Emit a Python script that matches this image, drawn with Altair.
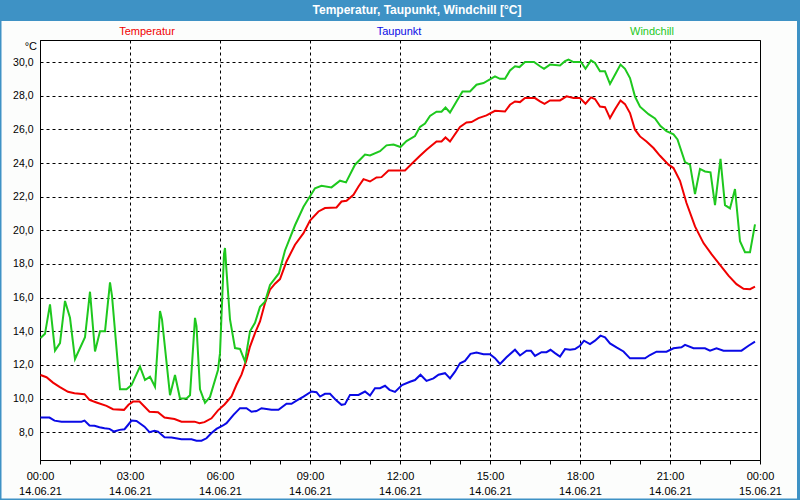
import altair as alt
import pandas as pd

# ---------------- data ----------------
temp_times = ["00:01","00:13","00:26","00:39","00:56","01:09","01:29","01:39","01:53","02:13",
              "02:26","02:48","02:57","03:06","03:19","03:39","03:56","04:09","04:29","04:43",
              "05:09","05:19","05:29","05:43","05:56","06:09","06:23","06:33","06:43","06:53",
              "07:00","07:10","07:20","07:30","07:40","07:50","08:00","08:13","08:30","08:47",
              "09:00","09:17","09:30","09:53","10:03","10:13","10:27","10:37","10:47","11:00",
              "11:13","11:23","11:37","12:10","12:23","12:40","12:53","13:13","13:23","13:31",
              "13:40","14:00","14:13","14:23","14:37","14:53","15:10","15:30","15:40","15:50",
              "16:00","16:10","16:30","16:40","16:49","17:00","17:20","17:33","17:47","18:00",
              "18:11","18:22","18:30","18:40","18:50","19:00","19:10","19:21","19:30","19:40",
              "19:50","20:00","20:13","20:27","20:40","20:57","21:07","21:20","21:33","21:50",
              "22:07","22:23","22:40","22:57","23:13","23:27","23:40","23:50"]
temp_vals = [11.4,11.27,10.95,10.7,10.4,10.32,10.26,9.92,9.77,9.57,
             9.37,9.33,9.63,9.82,9.82,9.22,9.19,8.87,8.79,8.63,
             8.63,8.54,8.6,8.83,9.3,9.65,10.13,10.82,11.42,12.3,
             13.09,13.89,14.58,15.68,16.47,16.83,17.1,18.15,19.14,19.83,
             20.58,21.12,21.32,21.36,21.71,21.75,22.11,22.6,23.04,22.9,
             23.14,23.16,23.56,23.56,23.94,24.43,24.79,25.28,25.28,25.52,
             25.28,26.14,26.41,26.43,26.67,26.83,27.1,27.06,27.46,27.66,
             27.62,27.86,27.86,27.66,27.52,27.72,27.72,27.96,27.86,27.86,
             27.52,27.9,27.8,27.36,27.32,26.67,27.2,27.72,27.5,26.97,
             25.98,25.58,25.28,24.89,24.43,23.9,23.7,22.94,21.62,20.23,
             19.24,18.58,17.95,17.31,16.8,16.52,16.5,16.66]

dew_times = ["00:01","00:19","00:29","00:43","01:23","01:29","01:39","01:49","01:59","02:09",
             "02:19","02:28","02:39","02:49","02:56","03:03","03:13","03:29","03:39","03:49",
             "03:56","04:09","04:23","04:43","05:03","05:13","05:23","05:33","05:43","05:53",
             "06:06","06:13","06:27","06:40","06:53","07:03","07:13","07:23","07:43","07:57",
             "08:13","08:23","08:33","08:47","09:03","09:13","09:20","09:30","09:40","09:53",
             "10:03","10:10","10:20","10:37","10:50","11:00","11:10","11:20","11:30","11:39",
             "11:50","12:04","12:20","12:30","12:41","12:53","13:07","13:17","13:30","13:40",
             "13:50","14:00","14:10","14:21","14:33","14:47","15:00","15:10","15:20","15:33",
             "15:50","16:00","16:13","16:22","16:30","16:43","16:53","17:01","17:10","17:20",
             "17:30","17:40","17:50","18:00","18:08","18:20","18:30","18:41","18:50","19:00",
             "19:13","19:27","19:40","20:10","20:20","20:33","20:53","21:07","21:23","21:30",
             "21:47","22:10","22:20","22:33","22:47","23:23","23:37","23:50"]
dew_vals = [8.87,8.87,8.69,8.63,8.63,8.69,8.4,8.38,8.3,8.24,
            8.2,8.04,8.14,8.18,8.43,8.69,8.67,8.33,8.0,8.08,
            8.04,7.7,7.68,7.58,7.58,7.5,7.5,7.64,7.95,8.2,
            8.4,8.54,9.03,9.43,9.43,9.22,9.26,9.43,9.33,9.33,
            9.69,9.69,9.88,10.12,10.42,10.38,10.12,10.28,10.28,9.88,
            9.63,9.67,10.22,10.22,10.42,10.18,10.62,10.62,10.76,10.52,
            10.4,10.8,11.0,11.1,11.42,11.05,11.2,11.42,11.51,11.2,
            11.6,12.1,12.24,12.66,12.74,12.64,12.64,12.4,12.06,12.46,
            12.9,12.56,12.84,12.84,12.54,12.76,12.76,12.9,12.7,12.5,
            12.94,12.9,12.94,13.14,13.44,13.24,13.44,13.74,13.64,13.28,
            13.04,12.8,12.39,12.39,12.59,12.79,12.79,12.99,13.05,13.19,
            12.99,12.99,12.85,12.99,12.85,12.85,13.14,13.38]

wind_times = ["00:01","00:10","00:20","00:30","00:40","00:50","01:00","01:10","01:30","01:40",
              "01:50","02:00","02:10","02:20","02:24","02:40","02:53","03:03","03:20","03:30",
              "03:40","03:50","04:00","04:04","04:20","04:30","04:40","04:53","05:00","05:10",
              "05:13","05:20","05:30","05:40","05:56","06:00","06:08","06:10","06:13","06:20",
              "06:30","06:40","06:50","07:00","07:10","07:20","07:30","07:40","07:58","08:10",
              "08:30","08:47","09:10","09:23","09:43","10:00","10:12","10:30","10:50","11:00",
              "11:20","11:33","11:47","12:01","12:13","12:30","12:40","12:50","13:00","13:13",
              "13:23","13:31","13:40","13:53","14:05","14:20","14:33","14:47","15:10","15:20",
              "15:30","15:40","15:50","15:59","16:10","16:28","16:40","16:48","17:00","17:20",
              "17:30","17:37","17:47","18:02","18:11","18:22","18:30","18:40","18:50","19:00",
              "19:10","19:21","19:30","19:40","19:50","20:00","20:17","20:30","20:41","20:53",
              "21:07","21:15","21:30","21:40","21:50","22:00","22:10","22:21","22:30","22:41",
              "22:50","23:00","23:10","23:20","23:30","23:40","23:50"]
wind_vals = [13.6,13.85,15.6,12.85,13.3,15.8,14.8,12.35,13.65,16.35,
             12.8,14.0,14.0,16.9,16.1,10.55,10.55,10.8,11.9,11.1,
             11.3,10.7,15.2,14.7,10.2,11.4,10.0,10.0,10.2,14.8,
             14.3,10.55,9.75,10.1,11.7,12.7,18.6,18.95,17.6,14.7,
             13.0,12.95,12.2,14.0,14.5,15.45,15.75,16.75,17.45,18.8,
             20.3,21.4,22.5,22.65,22.55,22.95,22.85,23.9,24.5,24.45,
             24.7,25.05,25.1,24.95,25.3,25.6,26.15,26.35,26.8,27.05,
             27.05,27.3,27.0,27.65,28.25,28.25,28.65,28.75,29.15,29.0,
             29.0,29.5,29.75,29.7,30.0,30.0,29.75,29.6,29.85,29.8,
             30.05,30.15,30.0,30.0,29.6,30.1,29.95,29.45,29.45,28.7,
             29.25,29.85,29.6,29.05,27.95,27.35,26.9,26.65,26.2,25.9,
             25.7,25.4,24.05,23.9,22.15,23.65,23.5,23.45,21.5,24.25,
             21.5,21.3,22.45,19.35,18.7,18.7,20.35]

series_names = ["Temperatur", "Taupunkt", "Windchill"]
series_colors = ["#f00000", "#0a0ae6", "#1ec81e"]
y_ticks = [8, 10, 12, 14, 16, 18, 20, 22, 24, 26, 28, 30]
hours = list(range(0, 25))

frames = []
for name, tt, vv in [("Temperatur", temp_times, temp_vals),
                     ("Taupunkt", dew_times, dew_vals),
                     ("Windchill", wind_times, wind_vals)]:
    frames.append(pd.DataFrame({"time": ["2021-06-14T" + t + ":00" for t in tt],
                                "value": vv, "series": name}))
df = pd.concat(frames, ignore_index=True)

FONT = "Liberation Sans"
BLUE_FRAME = "#3e92c5"

x_values = [alt.DateTime(year=2021, month=6, date=14 + h // 24, hours=h % 24) for h in hours]

x_axis = alt.Axis(
    values=x_values,
    title=None,
    labelExpr="hours(datum.value) % 3 == 0 ? [timeFormat(datum.value, '%H:%M'), timeFormat(datum.value, '%d.%m.%y')] : ''",
    labelOverlap=False,
    labelFlush=False,
    labelFont=FONT,
    labelFontSize=11,
    labelColor="#000000",
    labelPadding=6,
    labelLineHeight=15,
    tickSize=4,
    tickColor="#000000",
    domainColor="#000000",
    grid=True,
    gridColor="#000000",
    gridDash=[3, 3],
    gridOpacity={"condition": {"test": "hours(datum.value) % 3 == 0", "value": 1}, "value": 0},
)

y_axis = alt.Axis(
    values=y_ticks,
    title=None,
    labelExpr="replace(format(datum.value, '.1f'), '.', ',')",
    labelFont=FONT,
    labelFontSize=10.5,
    labelColor="#000000",
    labelPadding=7,
    ticks=False,
    domainColor="#000000",
    grid=True,
    gridColor="#000000",
    gridDash=[3, 3],
)

lines = alt.Chart(df).mark_line(strokeWidth=2, clip=True).encode(
    x=alt.X("time:T", axis=x_axis,
            scale=alt.Scale(domain=[alt.DateTime(year=2021, month=6, date=14, hours=0),
                                    alt.DateTime(year=2021, month=6, date=15, hours=0)])),
    y=alt.Y("value:Q", axis=y_axis, scale=alt.Scale(domain=[6.35, 31.31], nice=False, zero=False)),
    color=alt.Color("series:N", scale=alt.Scale(domain=series_names, range=series_colors), legend=None),
    detail="series:N",
)

one = pd.DataFrame({"a": [0]})

# decorative window frame (blue title bar and thin border)
title_bar = alt.Chart(one).mark_rect(color=BLUE_FRAME).encode(
    x=alt.value(-40), x2=alt.value(760), y=alt.value(-40), y2=alt.value(-19))
left_b = alt.Chart(one).mark_rect(color=BLUE_FRAME).encode(
    x=alt.value(-40), x2=alt.value(-38.5), y=alt.value(-40), y2=alt.value(460))
right_b = alt.Chart(one).mark_rect(color=BLUE_FRAME).encode(
    x=alt.value(757), x2=alt.value(760), y=alt.value(-40), y2=alt.value(460))
bottom_b = alt.Chart(one).mark_rect(color=BLUE_FRAME).encode(
    x=alt.value(-40), x2=alt.value(760), y=alt.value(458.5), y2=alt.value(460))

title_txt = alt.Chart(one).mark_text(
    text="Temperatur, Taupunkt, Windchill [°C]", font=FONT, fontSize=12, fontWeight="bold",
    color="white", align="center", baseline="middle").encode(
    x=alt.value(377), y=alt.value(-30))

legend_x = [107, 359, 612]
legend_layers = [
    alt.Chart(one).mark_text(text=n, font=FONT, fontSize=11, color=c,
                             align="center", baseline="middle").encode(
        x=alt.value(px), y=alt.value(-8.5))
    for n, c, px in zip(series_names, series_colors, legend_x)
]

unit_txt = alt.Chart(one).mark_text(text="°C", font=FONT, fontSize=11, color="#000000",
                                    align="right", baseline="middle").encode(
    x=alt.value(-3), y=alt.value(6.5))

chart = alt.layer(lines, title_bar, left_b, right_b, bottom_b, title_txt, unit_txt,
                  *legend_layers).properties(
    width=720, height=420,
    padding={"left": 40, "top": 40, "right": 40, "bottom": 40},
    autosize=alt.AutoSizeParams(type="none"),
    background="#fcfdfc",
).configure_view(stroke="#000000", strokeWidth=1, fill="white")

chart.save("out.html", embed_options={"renderer": "svg", "actions": False})
